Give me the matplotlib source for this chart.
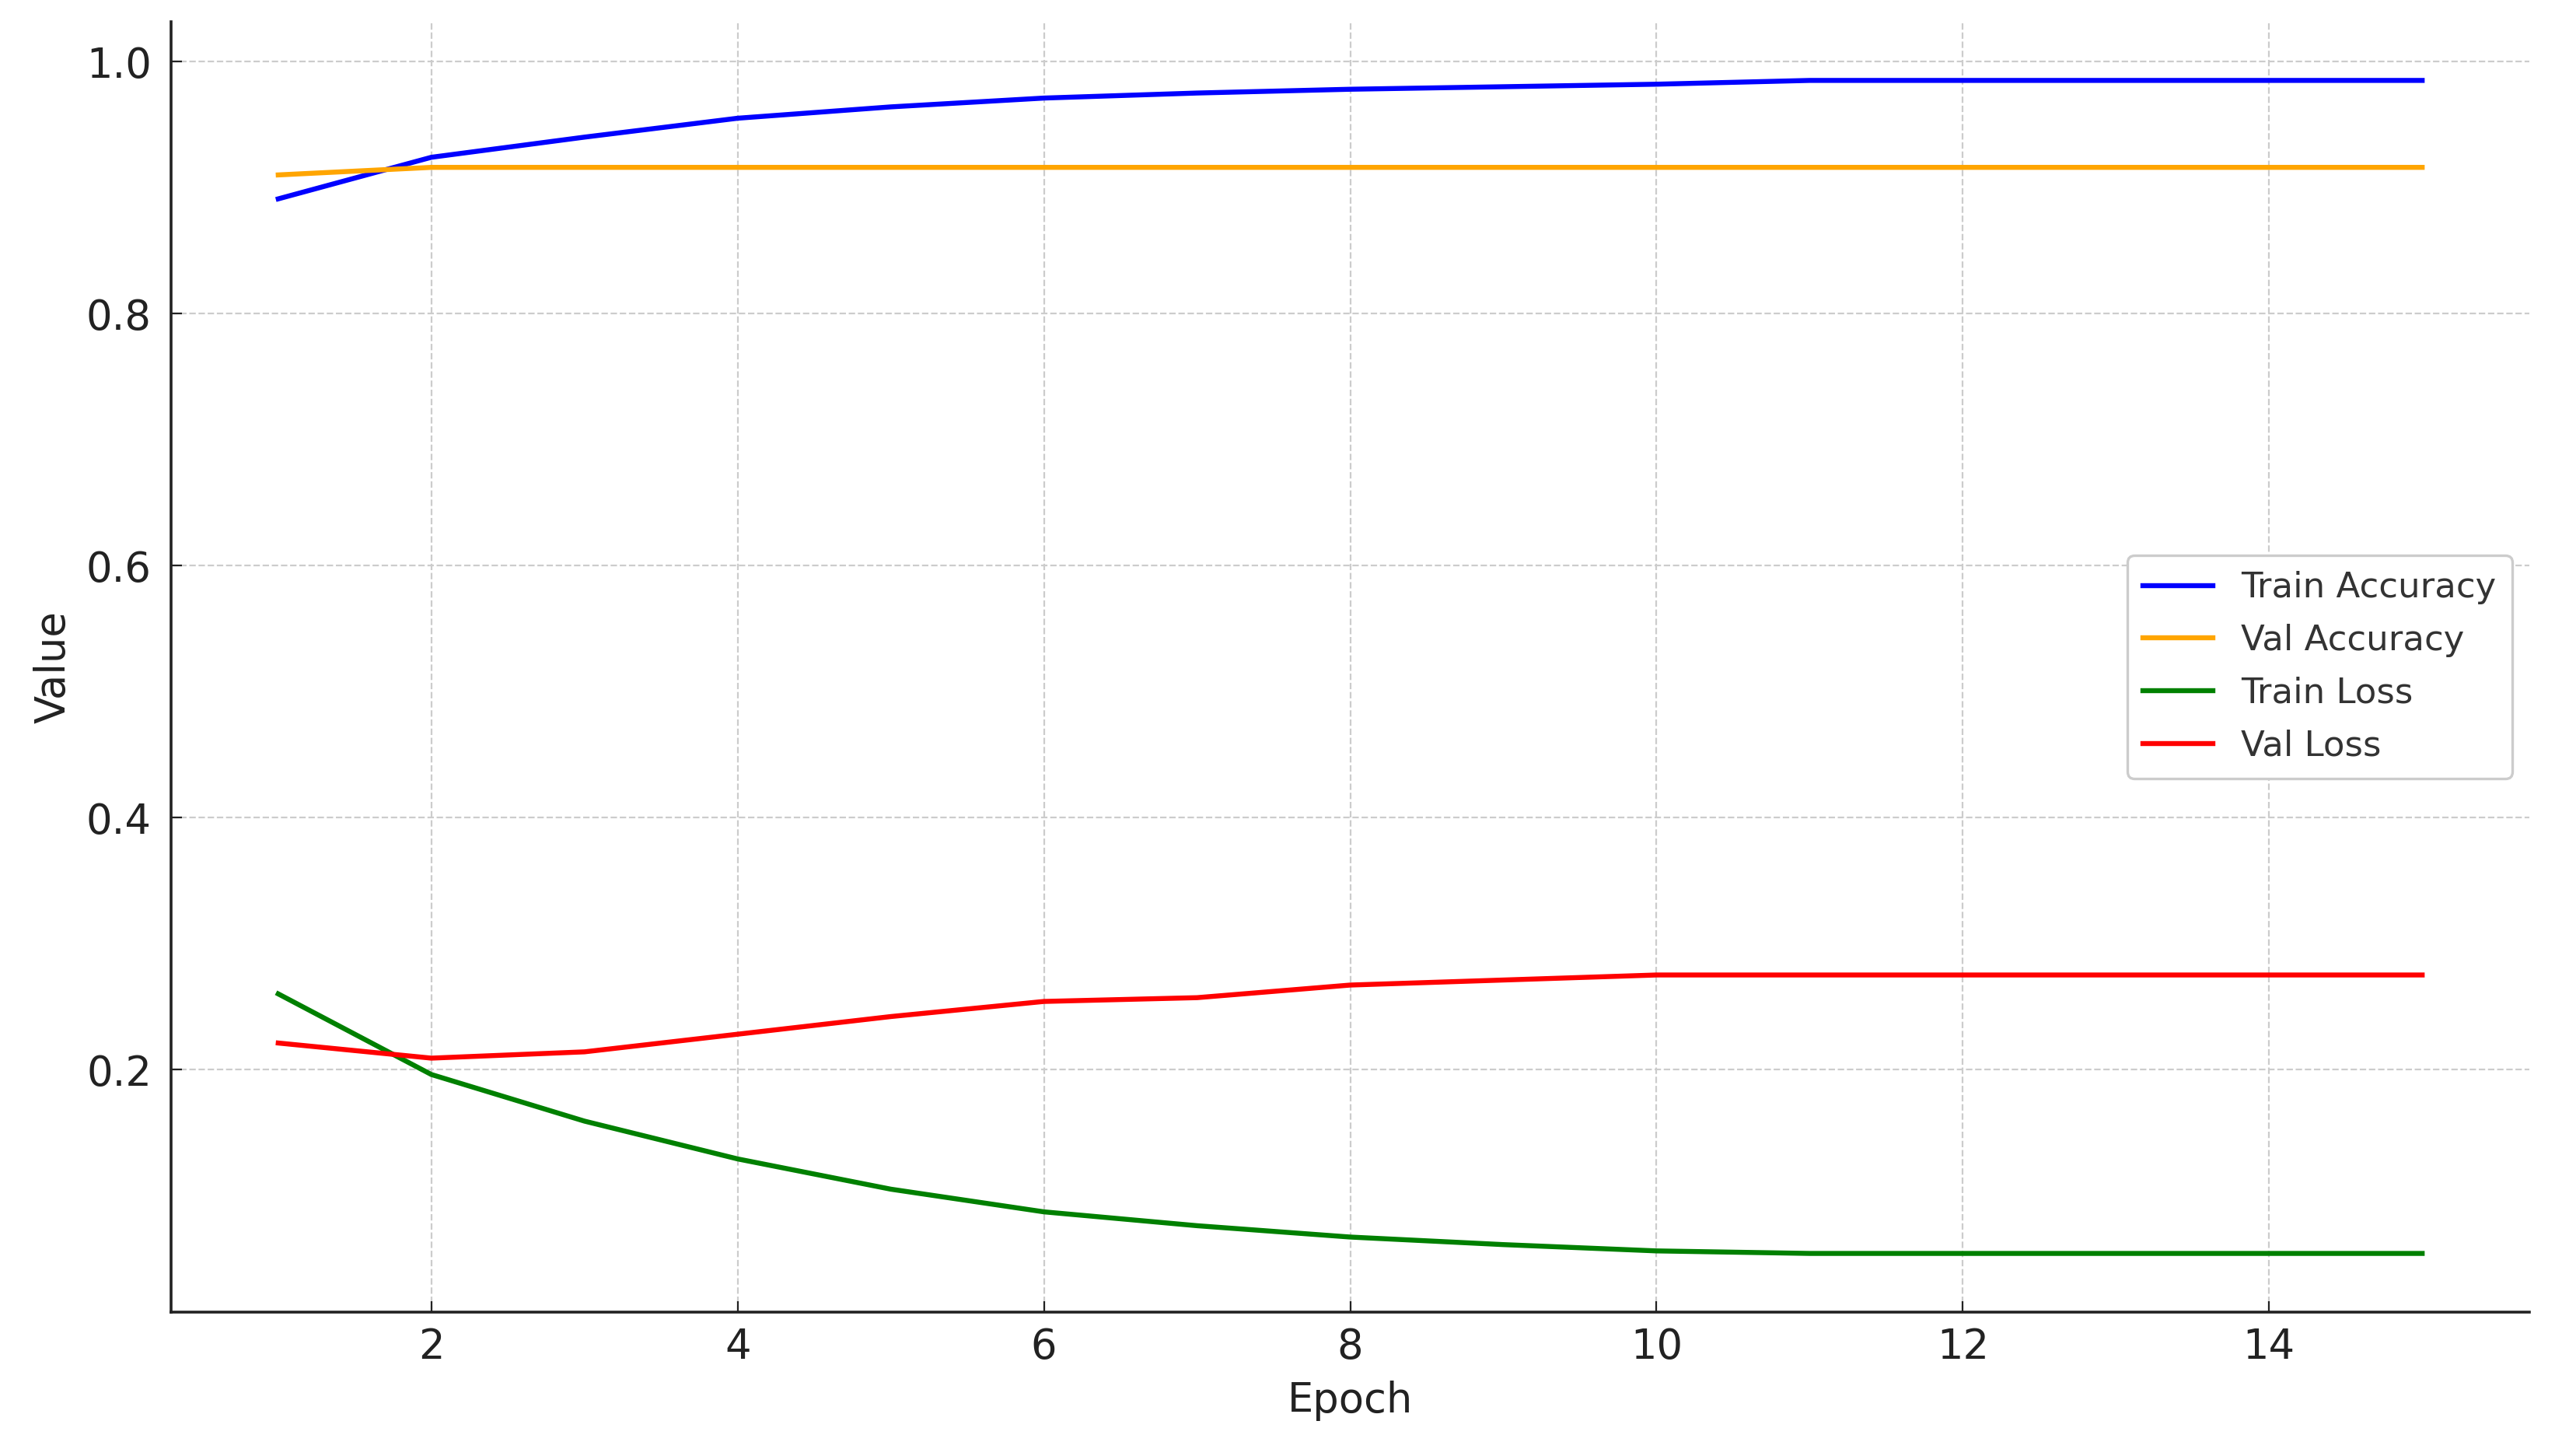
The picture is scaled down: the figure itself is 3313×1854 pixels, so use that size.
import matplotlib
matplotlib.use("Agg")
import matplotlib.pyplot as plt

epochs = list(range(1, 16))
train_acc = [0.891, 0.924, 0.940, 0.955, 0.964, 0.971, 0.975, 0.978, 0.980, 0.982, 0.985, 0.985, 0.985, 0.985, 0.985]
val_acc = [0.910, 0.916, 0.916, 0.916, 0.916, 0.916, 0.916, 0.916, 0.916, 0.916, 0.916, 0.916, 0.916, 0.916, 0.916]
train_loss = [0.260, 0.196, 0.159, 0.129, 0.105, 0.087, 0.076, 0.067, 0.061, 0.056, 0.054, 0.054, 0.054, 0.054, 0.054]
val_loss = [0.221, 0.209, 0.214, 0.228, 0.242, 0.254, 0.257, 0.267, 0.271, 0.275, 0.275, 0.275, 0.275, 0.275, 0.275]

series_labels = ["Train Accuracy", "Val Accuracy", "Train Loss", "Val Loss"]
series_colors = ["blue", "orange", "green", "red"]

plt.rcParams['font.family'] = ['DejaVu Sans']

fig = plt.figure(figsize=(3313 / 200, 1854 / 200), dpi=200)
ax = fig.add_axes([0.0664, 0.0901, 0.9819 - 0.0664, 0.9849 - 0.0901])

for ys, lab, col in zip([train_acc, val_acc, train_loss, val_loss], series_labels, series_colors):
    ax.plot(epochs, ys, color=col, lw=2.3, label=lab)

ax.set_xticks([2, 4, 6, 8, 10, 12, 14])
ax.set_yticks([0.2, 0.4, 0.6, 0.8, 1.0])
ax.grid(True, linestyle='--', color='#cccccc', linewidth=0.8)
ax.set_axisbelow(True)

for s in ['top', 'right']:
    ax.spines[s].set_visible(False)
for s in ['left', 'bottom']:
    ax.spines[s].set_color('#222222')
    ax.spines[s].set_linewidth(1.3)

ax.tick_params(axis='both', direction='in', length=5, width=0.8, color='#222222',
               labelsize=19, labelcolor='#222222')
ax.tick_params(axis='x', pad=7)
ax.tick_params(axis='y', pad=9)

ax.set_xlabel("Epoch", fontsize=19, color='#222222', labelpad=6)
ax.set_ylabel("Value", fontsize=19, color='#222222', labelpad=6)

leg = ax.legend(loc='center right', fontsize=16.2, frameon=True, fancybox=True,
                edgecolor='#cccccc', framealpha=1.0, borderpad=0.45,
                handlelength=2.0, handletextpad=0.8, labelspacing=0.55)
for t in leg.get_texts():
    t.set_color('#333333')
leg.get_frame().set_linewidth(1.2)

fig.savefig("out.png", dpi=200)
